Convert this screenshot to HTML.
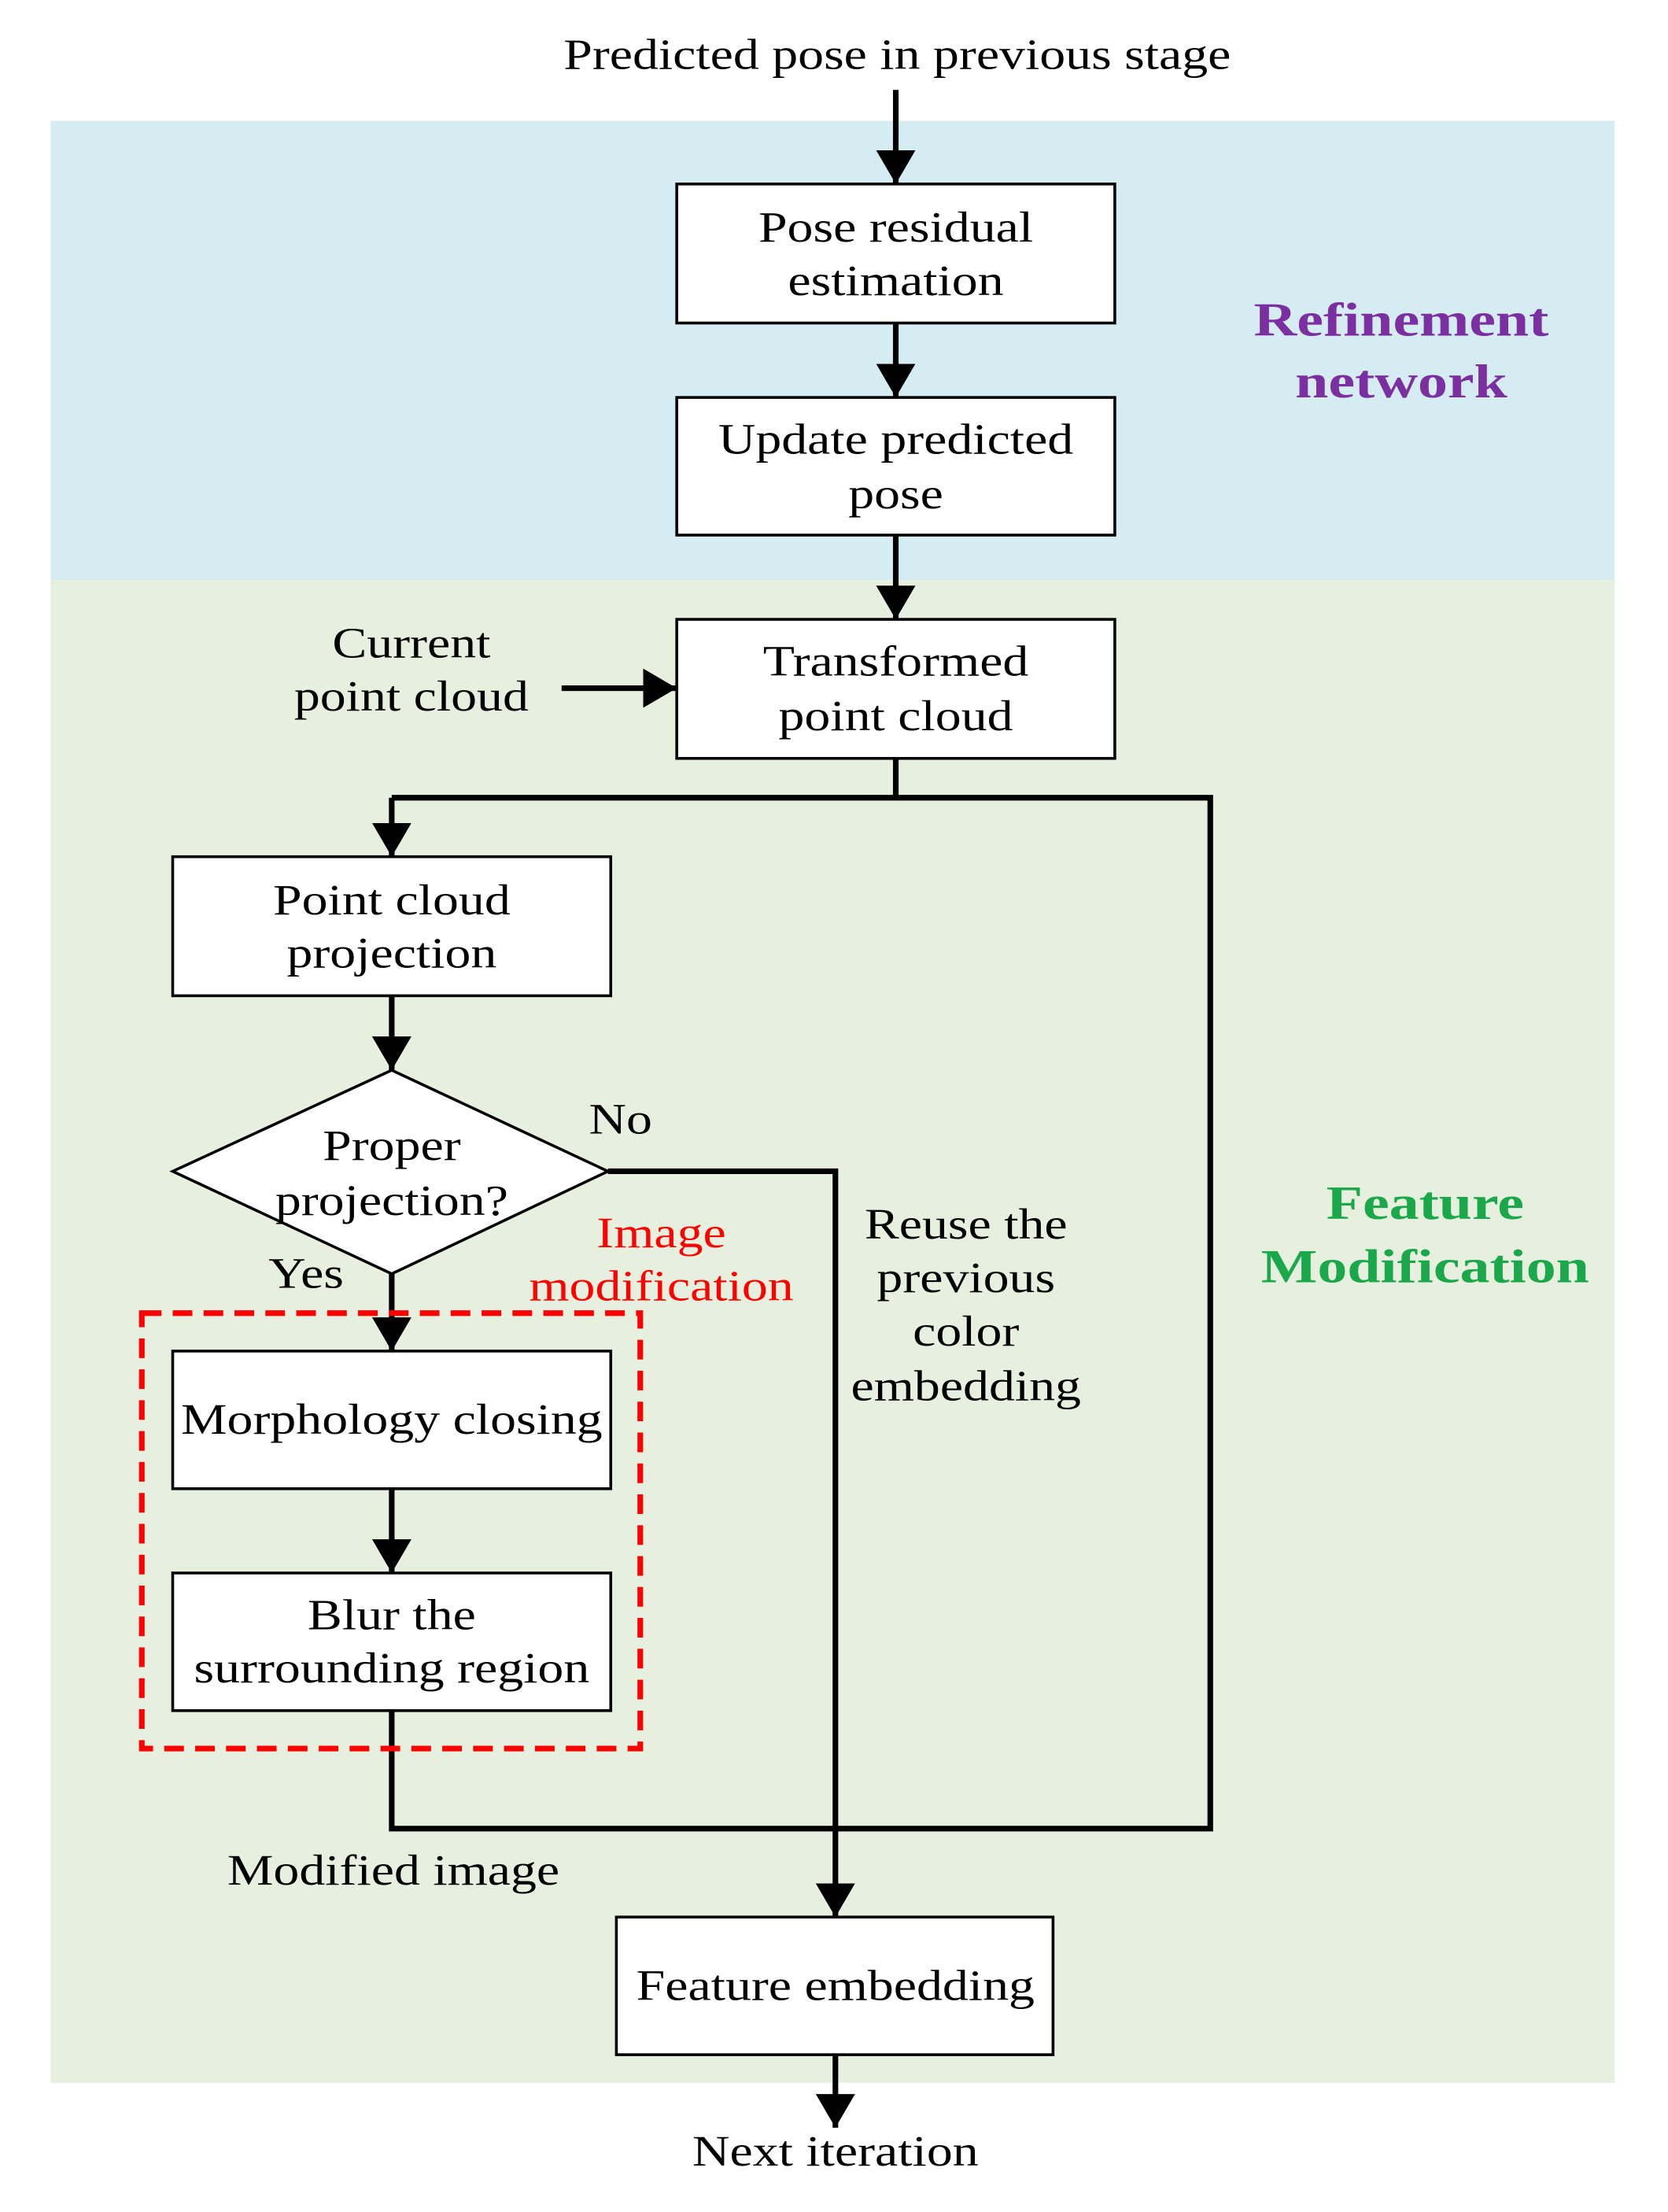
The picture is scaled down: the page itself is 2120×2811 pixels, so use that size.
<!DOCTYPE html>
<html><head><meta charset="utf-8"><style>html,body{margin:0;padding:0;background:#fff}svg{display:block}</style></head>
<body>
<svg width="2120" height="2811" viewBox="0 0 1188 1575" preserveAspectRatio="none" xmlns="http://www.w3.org/2000/svg" font-family="Liberation Serif, serif" font-size="31">
<defs>
<marker id="a" markerWidth="6" markerHeight="7" refX="6" refY="3.5" orient="auto" markerUnits="strokeWidth"><path d="M0,0 L6,3.5 L0,7 z" fill="#000"/></marker>
</defs>
<rect x="36" y="86" width="1114" height="327" fill="#d5edf2"/>
<rect x="36" y="413" width="1114" height="1070" fill="#e7f0de"/>
<g fill="none" stroke="#000" stroke-width="4">
<path d="M638,64 V131" marker-end="url(#a)"/>
<path d="M638,230 V283" marker-end="url(#a)"/>
<path d="M638,381 V441" marker-end="url(#a)"/>
<path d="M400,490 H482" marker-end="url(#a)"/>
<path d="M638,540 V568 M279,568 H862 V1302 H279 V1218"/>
<path d="M279,568 V610" marker-end="url(#a)"/>
<path d="M279,709 V762" marker-end="url(#a)"/>
<path d="M279,907 V962" marker-end="url(#a)"/>
<path d="M279,1060 V1120" marker-end="url(#a)"/>
<path d="M433,834 H595 V1365" marker-end="url(#a)"/>
<path d="M595,1463 V1515" marker-end="url(#a)"/>
</g>
<g fill="#fff" stroke="#000" stroke-width="2">
<rect x="482" y="131" width="312" height="99"/>
<rect x="482" y="283" width="312" height="98"/>
<rect x="482" y="441" width="312" height="99"/>
<rect x="123" y="610" width="312" height="99"/>
<path d="M279,762 L433,834 L279,907 L123,834 z"/>
<rect x="123" y="962" width="312" height="98"/>
<rect x="123" y="1120" width="312" height="98"/>
<rect x="439" y="1365" width="311" height="98"/>
</g>
<rect x="101" y="935" width="355" height="310" fill="none" stroke="#f00" stroke-width="4" stroke-dasharray="14,8"/>
<g text-anchor="middle" fill="#000">
<g transform="translate(639,0) scale(1.19,1)"><text y="49">Predicted pose in previous stage</text></g>
<g transform="translate(638,0) scale(1.19,1)"><text y="172">Pose residual</text><text y="210">estimation</text>
<text y="323">Update predicted</text><text y="362">pose</text>
<text y="481">Transformed</text><text y="520">point cloud</text></g>
<g transform="translate(293,0) scale(1.19,1)"><text y="468">Current</text><text y="506">point cloud</text></g>
<g transform="translate(279,0) scale(1.19,1)"><text y="651">Point cloud</text><text y="689">projection</text>
<text y="826">Proper</text><text y="865">projection?</text>
<text y="1021">Morphology closing</text>
<text y="1160">Blur the</text><text y="1198">surrounding region</text>
<text x="1" y="1342">Modified image</text></g>
<g transform="translate(442,0) scale(1.19,1)"><text y="807">No</text></g>
<g transform="translate(218,0) scale(1.19,1)"><text y="917">Yes</text></g>
<g transform="translate(688,0) scale(1.19,1)"><text y="882">Reuse the</text><text y="920">previous</text><text y="958">color</text><text y="997">embedding</text></g>
<g transform="translate(595,0) scale(1.19,1)"><text y="1424">Feature embedding</text><text y="1542">Next iteration</text></g>
<g transform="translate(471,0) scale(1.19,1)" fill="#f00"><text y="888">Image</text><text y="926">modification</text></g>
<g transform="translate(998,0) scale(1.25,1)" font-weight="bold" font-size="34" fill="#7b2fa0"><text y="239">Refinement</text><text y="283">network</text></g>
<g transform="translate(1015,0) scale(1.25,1)" font-weight="bold" font-size="34" fill="#1aa84a"><text y="868">Feature</text><text y="913">Modification</text></g>
</g>
</svg>
</body></html>
